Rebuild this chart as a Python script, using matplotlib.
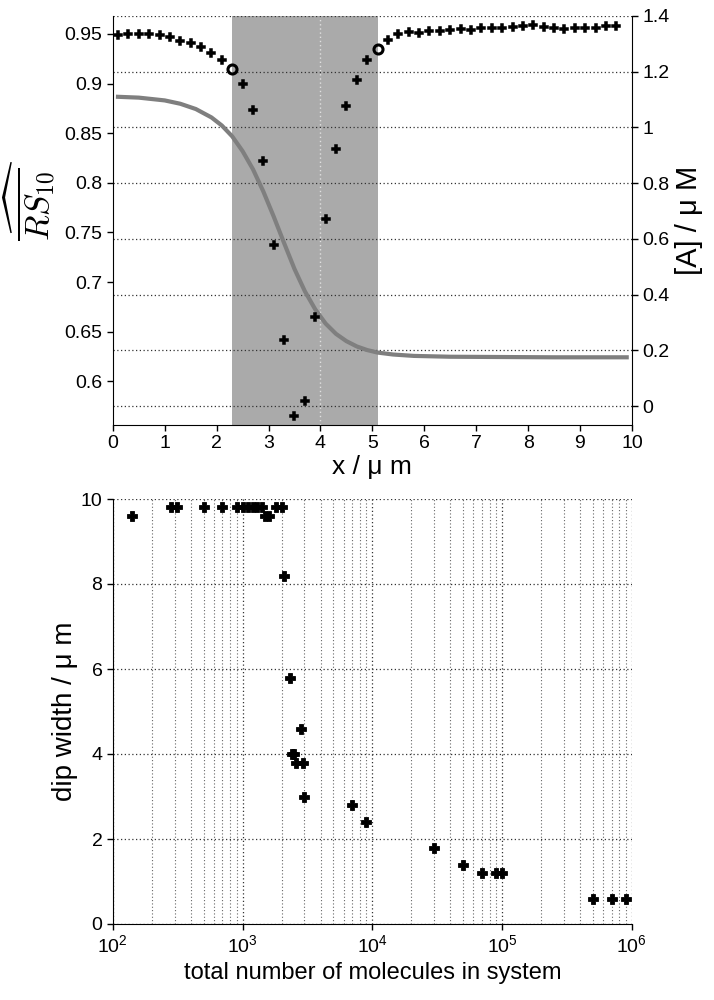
import matplotlib
matplotlib.use("Agg")
import matplotlib.pyplot as plt
from matplotlib.ticker import FormatStrFormatter, LogLocator, NullFormatter

plt.rcParams["font.family"] = ["Liberation Sans", "DejaVu Sans"]

# --- top panel data ---
# dip-profile points (x in um, RS10 estimate)
x_rs = [0.1, 0.3, 0.5, 0.7, 0.9, 1.1, 1.3, 1.5, 1.7, 1.9, 2.1,
        2.5, 2.7, 2.9, 3.1, 3.3, 3.5, 3.7, 3.9, 4.1, 4.3, 4.5, 4.7, 4.9,
        5.3, 5.5, 5.7, 5.9, 6.1, 6.3, 6.5, 6.7, 6.9, 7.1, 7.3, 7.5, 7.7,
        7.9, 8.1, 8.3, 8.5, 8.7, 8.9, 9.1, 9.3, 9.5, 9.7]
rs = [0.949, 0.950, 0.950, 0.950, 0.949, 0.947, 0.943, 0.941, 0.937, 0.931, 0.924,
      0.900, 0.873, 0.822, 0.737, 0.642, 0.565, 0.580, 0.665, 0.764, 0.834, 0.877, 0.904, 0.924,
      0.944, 0.950, 0.952, 0.951, 0.953, 0.953, 0.954, 0.955, 0.954, 0.956, 0.956, 0.956, 0.957,
      0.958, 0.959, 0.957, 0.956, 0.955, 0.956, 0.956, 0.956, 0.958, 0.958]
# dip edges (open circles)
edge_x = [2.3, 5.1]
edge_rs = [0.915, 0.935]
dip_lo, dip_hi = 2.3, 5.1

# concentration profile [A] (uM)
x_conc = [0.1, 0.5, 1.0, 1.3, 1.6, 1.9, 2.1, 2.3, 2.5, 2.7, 2.9, 3.1, 3.3,
          3.5, 3.7, 3.9, 4.1, 4.3, 4.5, 4.7, 4.9, 5.1, 5.4, 5.8, 6.5, 7.5,
          8.5, 9.9]
conc = [1.110, 1.107, 1.097, 1.085, 1.066, 1.036, 1.007, 0.968, 0.915, 0.850,
        0.770, 0.680, 0.585, 0.492, 0.412, 0.347, 0.296, 0.259, 0.233, 0.214,
        0.201, 0.192, 0.185, 0.180, 0.177, 0.176, 0.175, 0.175]

# --- bottom panel data ---
n_molecules = [140, 280, 310, 500, 700, 900, 1000, 1100, 1200, 1300, 1400,
               1500, 1600, 1800, 2000, 2100, 2300, 2400, 2500, 2800, 2600,
               2900, 3000, 7000, 9000, 30000, 50000, 70000, 90000, 100000,
               500000, 700000, 900000]
dip_width = [9.6, 9.8, 9.8, 9.8, 9.8, 9.8, 9.8, 9.8, 9.8, 9.8, 9.8,
             9.6, 9.6, 9.8, 9.8, 8.2, 5.8, 4.0, 4.0, 4.6, 3.8,
             3.8, 3.0, 2.8, 2.4, 1.8, 1.4, 1.2, 1.2, 1.2,
             0.6, 0.6, 0.6]

DOTS = (0, (1, 2))

fig = plt.figure(figsize=(7.14, 10), dpi=100)

# ---------------- top panel ----------------
ax2 = fig.add_axes([0.158, 0.575, 0.727, 0.409])   # [A] axis (drawn below)
ax1 = ax2.twinx()                                   # RS axis on top
ax1.set_zorder(ax2.get_zorder() + 1)
ax1.patch.set_visible(False)

ax2.axvspan(dip_lo, dip_hi, color="#aaaaaa", lw=0, zorder=1)
ax2.axvline(4, color="#e0e0e0", ls=DOTS, lw=1.0, zorder=1.2)
ax2.plot(x_conc, conc, color="#7f7f7f", lw=3, zorder=2)
ax2.set_ylim(-0.068, 1.4)
ax2.set_xlim(0, 10)
ax2.set_yticks([0, 0.2, 0.4, 0.6, 0.8, 1.0, 1.2, 1.4])
ax2.yaxis.set_major_formatter(FormatStrFormatter("%g"))
ax2.yaxis.tick_right()
ax2.yaxis.set_label_position("right")
ax2.grid(axis="y", ls=DOTS, color="#333333", lw=0.9)
ax2.set_ylabel("[A] / \u03bc M", fontsize=21)
ax2.yaxis.set_label_coords(1.083, 0.5)
ax2.set_xticks(range(0, 11))
ax2.set_xlabel("x / \u03bc m", fontsize=19, labelpad=2)

ax1.plot(x_rs, rs, ls="none", marker="P", ms=6, color="black",
         mec="black", mew=1.1)
ax1.plot(edge_x, edge_rs, ls="none", marker="o", ms=6.5, mfc="none",
         mec="black", mew=2.2)
ax1.set_ylim(0.556, 0.968)
ax1.set_yticks([0.6, 0.65, 0.7, 0.75, 0.8, 0.85, 0.9, 0.95])
ax1.yaxis.set_major_formatter(FormatStrFormatter("%g"))
ax1.yaxis.tick_left()
ax1.yaxis.set_label_position("left")
ax1.set_ylabel(r"$\widehat{\overline{RS_{10}}}$", fontsize=24,
               math_fontfamily="cm")
ax1.yaxis.set_label_coords(-0.108, 0.55)

for a in (ax1, ax2):
    a.spines["top"].set_visible(False)
    a.tick_params(labelsize=14, direction="out", length=4, width=1)
ax1.spines["right"].set_visible(False)
ax1.spines["bottom"].set_visible(False)
ax2.spines["left"].set_visible(False)

# ---------------- bottom panel ----------------
ax3 = fig.add_axes([0.158, 0.076, 0.727, 0.425])
ax3.plot(n_molecules, dip_width, ls="none", marker="P", ms=6.8, color="black",
         mec="black", mew=0.6)
ax3.set_xscale("log")
ax3.set_xlim(1e2, 1e6)
ax3.set_ylim(0, 10)
ax3.set_yticks([0, 2, 4, 6, 8, 10])
ax3.xaxis.set_minor_locator(LogLocator(base=10, subs=range(2, 10)))
ax3.xaxis.set_minor_formatter(NullFormatter())
ax3.grid(which="major", ls=DOTS, color="#333333", lw=0.9)
ax3.grid(which="minor", axis="x", ls=DOTS, color="#666666", lw=0.8)
ax3.spines["top"].set_visible(False)
ax3.spines["right"].set_visible(False)
ax3.tick_params(labelsize=14, direction="out", length=4, width=1)
ax3.tick_params(which="minor", length=0)
ax3.set_xlabel("total number of molecules in system", fontsize=17, labelpad=4)
ax3.set_ylabel("dip width / \u03bc m", fontsize=20)
ax3.yaxis.set_label_coords(-0.067, 0.5)

fig.savefig("out.png", dpi=100, facecolor="white")
